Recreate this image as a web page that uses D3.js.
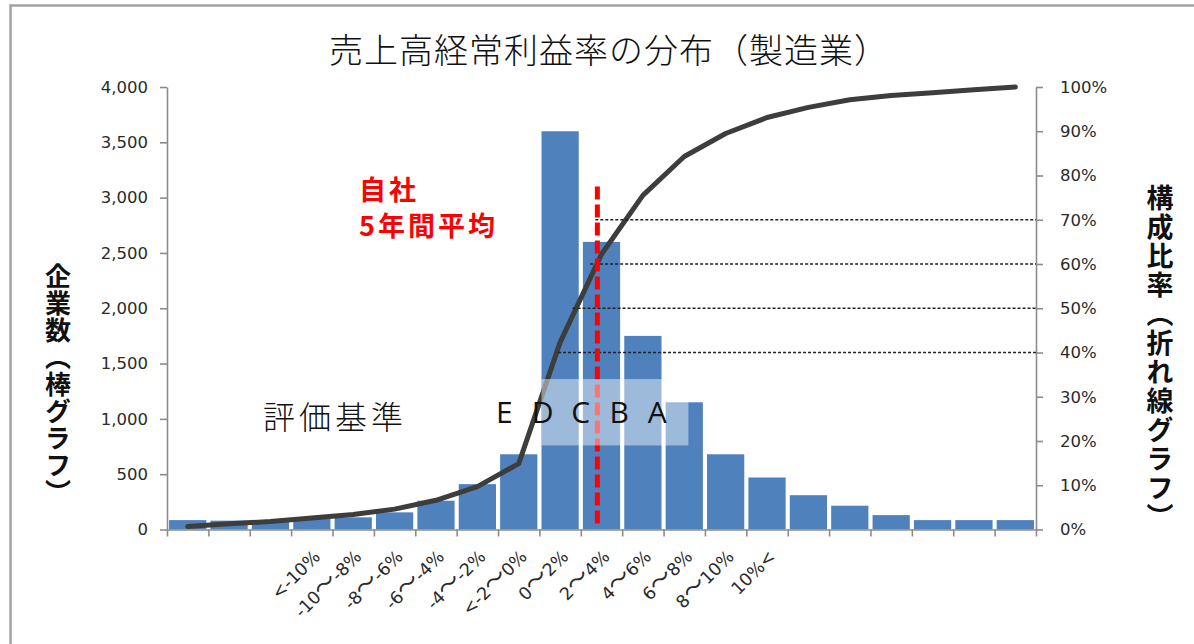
<!DOCTYPE html>
<html>
<head>
<meta charset="utf-8">
<script src="https://cdn.jsdelivr.net/npm/d3@7"></script>
<style>
  body { margin: 0; background: #fff; }
  svg { display: block; font-family: "DejaVu Sans", "Noto Sans CJK JP", sans-serif; }
</style>
</head>
<body>
<svg id="chart" width="1194" height="644"></svg>
<script>
// Profit-ratio bins (2% wide); only the middle bins carry a label
const binLabels = ["", "", "", "<-10%", "-10〜-8%", "-8〜-6%", "-6〜-4%", "-4〜-2%", "<-2〜0%",
  "0〜2%", "2〜4%", "4〜6%", "6〜8%", "8〜10%", "10%<", "", "", "", "", "", ""];
// Number of companies in each bin (bars, left axis)
const companyCounts = [85, 80, 70, 100, 110, 155, 260, 410, 680, 3600, 2600, 1750, 1150,
  680, 470, 310, 215, 130, 85, 85, 85];
// Cumulative share of companies in % (line, right axis)
const cumulativeShare = [0.7, 1.3, 1.8, 2.6, 3.4, 4.6, 6.6, 9.7, 14.9, 42.3, 62.2, 75.5, 84.3,
  89.5, 93.1, 95.4, 97.1, 98.1, 98.7, 99.4, 100];
const countTicks = [0, 500, 1000, 1500, 2000, 2500, 3000, 3500, 4000];
const shareTicks = [0, 10, 20, 30, 40, 50, 60, 70, 80, 90, 100];

// Own company's five-year average profit ratio (%)
const ownAverage = 2.8;
// Grade thresholds on the cumulative share, with the profit ratio where each guide starts
const gradeLevels = [70, 60, 50, 40];
const gradeLevelFrom = [2.7, 2.45, 1.6, 0.9];
// Grade letters and their profit-ratio positions
const gradeLetters = ["E", "D", "C", "B", "A"];
const gradeLetterAt = [-1.7, 0.15, 2.0, 3.85, 5.7];
// Highlight band for the grades: profit-ratio span and company-count span
const gradeBandRatio = [0.1, 7.2];
const gradeBandCount = [760, 1360];

const svg = d3.select("#chart");
const plotLeft = 167, plotRight = 1036, plotTop = 87, plotBottom = 529.5;

// Frame of the chart area
svg.append("rect")
  .attr("x", 10.5).attr("y", 5.5).attr("width", 1400).attr("height", 900)
  .attr("fill", "none").attr("stroke", "#a3a3a3").attr("stroke-width", 2.5);

const x = d3.scaleBand().domain(d3.range(binLabels.length)).range([plotLeft, plotRight]).paddingInner(0.1).paddingOuter(0.05);
const xEdge = d3.scaleLinear().domain([0, binLabels.length]).range([plotLeft, plotRight]);
// Profit ratio (%) along the same axis: bin 9 starts at 0%
const xRatio = d3.scaleLinear().domain([-18, 24]).range([plotLeft, plotRight]);
const yCount = d3.scaleLinear().domain([0, 4000]).range([plotBottom, plotTop]);
const yShare = d3.scaleLinear().domain([0, 100]).range([plotBottom, plotTop]);

// Bars
svg.append("g").selectAll("rect")
  .data(companyCounts)
  .join("rect")
  .attr("x", (d, i) => x(i))
  .attr("width", x.bandwidth())
  .attr("y", d => yCount(d))
  .attr("height", d => yCount(0) - yCount(d))
  .attr("fill", "#4f81bd");

// Axes
const axisColor = "#8c8c8c";
function styleAxis(g) {
  g.selectAll("path, line").attr("stroke", axisColor).attr("stroke-width", 1.6);
  g.selectAll("text").attr("fill", "#2a2a2a").attr("font-size", 16.5)
    .attr("font-family", "'DejaVu Sans', sans-serif");
}
svg.append("g").attr("transform", `translate(${plotLeft},0)`)
  .call(d3.axisLeft(yCount).tickValues(countTicks).tickFormat(d3.format(",")).tickSize(7).tickSizeOuter(0).tickPadding(12))
  .call(styleAxis);
svg.append("g").attr("transform", `translate(${plotRight},0)`)
  .call(d3.axisRight(yShare).tickValues(shareTicks).tickFormat(d => d + "%").tickSize(7).tickSizeOuter(0).tickPadding(17))
  .call(styleAxis);
svg.append("g").attr("transform", `translate(0,${plotBottom})`)
  .call(d3.axisBottom(xEdge).tickValues(d3.range(binLabels.length + 1)).tickFormat("").tickSize(7).tickSizeOuter(0))
  .call(styleAxis);

// Rotated bin labels; the wave dash is set larger in the CJK face
const binText = svg.append("g").selectAll("text")
  .data(binLabels)
  .join("text")
  .attr("transform", (d, i) => `translate(${x(i) + x.bandwidth() / 2 + 5},${plotBottom + 24}) rotate(-45)`)
  .attr("text-anchor", "end")
  .attr("dy", "0.35em")
  .attr("font-size", 17.5)
  .attr("fill", "#2a2a2a");
binText.selectAll("tspan")
  .data(d => d.split(/(〜)/).filter(s => s.length))
  .join("tspan")
  .attr("font-family", s => s === "〜" ? "'Noto Sans CJK JP', sans-serif" : null)
  .attr("font-size", s => s === "〜" ? 23 : null)
  .text(s => s);

// Cumulative share line
const line = d3.line()
  .x((d, i) => x(i) + x.bandwidth() / 2)
  .y(d => yShare(d));
svg.append("path")
  .datum(cumulativeShare)
  .attr("d", line)
  .attr("fill", "none")
  .attr("stroke", "#3d3d3d")
  .attr("stroke-width", 5)
  .attr("stroke-linejoin", "round")
  .attr("stroke-linecap", "round");

// Grade guide lines
svg.append("g").selectAll("line")
  .data(gradeLevels)
  .join("line")
  .attr("x1", (d, i) => xRatio(gradeLevelFrom[i]))
  .attr("x2", plotRight)
  .attr("y1", d => yShare(d))
  .attr("y2", d => yShare(d))
  .attr("stroke", "#222")
  .attr("stroke-width", 1.4)
  .attr("stroke-dasharray", "3,2");

// Own company's average
svg.append("line")
  .attr("x1", xRatio(ownAverage)).attr("x2", xRatio(ownAverage))
  .attr("y1", yShare(77.5)).attr("y2", plotBottom - 3)
  .attr("stroke", "#ff0000")
  .attr("stroke-width", 5)
  .attr("stroke-dasharray", "13,5");

// Grade band overlay
svg.append("rect")
  .attr("x", xRatio(gradeBandRatio[0]))
  .attr("width", xRatio(gradeBandRatio[1]) - xRatio(gradeBandRatio[0]))
  .attr("y", yCount(gradeBandCount[1]))
  .attr("height", yCount(gradeBandCount[0]) - yCount(gradeBandCount[1]))
  .attr("fill", "#ffffff")
  .attr("fill-opacity", 0.45);

// Grade letters
svg.append("g").selectAll("text")
  .data(gradeLetters)
  .join("text")
  .attr("x", (d, i) => xRatio(gradeLetterAt[i]))
  .attr("y", 423)
  .attr("text-anchor", "middle")
  .attr("font-family", "'Open Sans', sans-serif")
  .attr("font-size", 30)
  .attr("fill", "#111")
  .text(d => d);

svg.append("text")
  .attr("x", 335).attr("y", 429)
  .attr("text-anchor", "middle")
  .attr("font-family", "'Noto Sans CJK JP', sans-serif")
  .attr("font-weight", 300)
  .attr("font-size", 32)
  .attr("letter-spacing", 4)
  .attr("fill", "#111")
  .text("評価基準");

// Own-company note
const note = svg.append("text")
  .attr("font-family", "'Noto Sans CJK JP', sans-serif")
  .attr("font-weight", 700)
  .attr("font-size", 27)
  .attr("letter-spacing", 3)
  .attr("fill", "#ff0000");
note.append("tspan").attr("x", 359).attr("y", 200).text("自社");
note.append("tspan").attr("x", 359).attr("y", 236).text("5年間平均");

// Title
svg.append("text")
  .attr("x", 609).attr("y", 63)
  .attr("text-anchor", "middle")
  .attr("font-family", "'Noto Sans CJK JP', sans-serif")
  .attr("font-weight", 300)
  .attr("font-size", 34)
  .attr("letter-spacing", 1)
  .attr("fill", "#111")
  .text("売上高経常利益率の分布（製造業）");

// Axis titles, written vertically
svg.append("text")
  .attr("x", 58).attr("y", 385)
  .attr("writing-mode", "vertical-rl")
  .attr("text-anchor", "middle")
  .attr("font-family", "'Noto Sans CJK JP', sans-serif")
  .attr("font-weight", 700)
  .attr("font-size", 26)
  .attr("letter-spacing", 1)
  .attr("fill", "#111")
  .text("企業数（棒グラフ）");
svg.append("text")
  .attr("x", 1160).attr("y", 358)
  .attr("writing-mode", "vertical-rl")
  .attr("text-anchor", "middle")
  .attr("font-family", "'Noto Sans CJK JP', sans-serif")
  .attr("font-weight", 700)
  .attr("font-size", 27)
  .attr("letter-spacing", 2)
  .attr("fill", "#111")
  .text("構成比率（折れ線グラフ）");
</script>
</body>
</html>
